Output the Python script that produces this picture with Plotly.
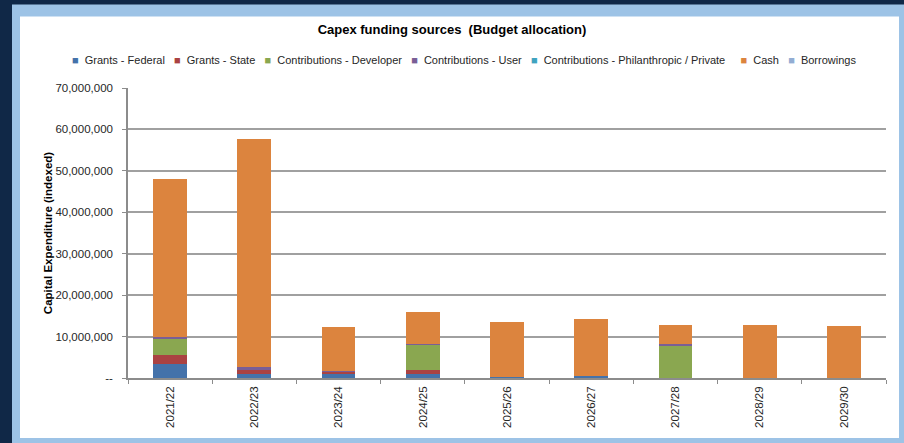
import plotly.graph_objects as go

# ---- data ----
years = ["2021/22", "2022/23", "2023/24", "2024/25", "2025/26",
         "2026/27", "2027/28", "2028/29", "2029/30"]
series_names = ["Grants - Federal", "Grants - State", "Contributions - Developer",
                "Contributions - User", "Contributions - Philanthropic / Private",
                "Cash", "Borrowings"]
grants_federal = [3500000, 1000000, 1000000, 1000000, 150000, 500000, 0, 0, 0]
grants_state = [2100000, 1100000, 450000, 1000000, 0, 0, 0, 0, 0]
contrib_developer = [3900000, 0, 0, 6000000, 0, 0, 7900000, 0, 0]
contrib_user = [500000, 450000, 350000, 250000, 0, 0, 200000, 0, 0]
contrib_philanthropic = [0, 0, 0, 0, 0, 0, 0, 0, 0]
cash = [38100000, 55200000, 10600000, 7650000, 13400000, 13780000, 4730000, 12830000, 12660000]
borrowings = [0, 0, 0, 0, 0, 0, 0, 0, 0]
y_tickvals = [0, 10000000, 20000000, 30000000, 40000000, 50000000, 60000000, 70000000]
y_ticktext = ["--", "10,000,000", "20,000,000", "30,000,000", "40,000,000",
              "50,000,000", "60,000,000", "70,000,000"]

values = [grants_federal, grants_state, contrib_developer, contrib_user,
          contrib_philanthropic, cash, borrowings]
colors = ["#4472AA", "#AA4242", "#8AA750", "#7A5E96", "#3FA3BF", "#DC843E", "#93ADD3"]

FONT = "Liberation Sans, Arial, sans-serif"
W, H = 904, 443
L, R, T, B = 128, 18, 88, 65
PW, PH = W - L - R, H - T - B


def px_x(px):
    return (px - L) / PW


def px_y(py):
    return (H - B - py) / PH


fig = go.Figure()
for name, vals, col in zip(series_names, values, colors):
    fig.add_trace(go.Bar(x=years, y=vals, name=name, marker_color=col,
                         marker_line_width=0, showlegend=False))

# custom Excel-like legend as real text
legend_parts = []
for i, (name, col) in enumerate(zip(series_names, colors)):
    if i == 0:
        sep = ""
    elif name == "Cash":
        sep = "     "
    else:
        sep = "   "
    legend_parts.append(sep + f'<span style="color:{col};font-size:11px">■</span>  {name}')
legend_text = "".join(legend_parts)

shapes = [
    dict(type="rect", xref="paper", yref="paper", layer="below",
         x0=px_x(12), x1=px_x(906), y0=px_y(4.6), y1=px_y(445),
         fillcolor="#9DC3E6", line_width=0),
    dict(type="rect", xref="paper", yref="paper", layer="below",
         x0=px_x(20), x1=px_x(899), y0=px_y(16.5), y1=px_y(438),
         fillcolor="#FFFFFF", line_width=0),
]

fig.update_layout(
    width=W, height=H,
    margin=dict(l=L, r=R, t=T, b=B, autoexpand=False),
    paper_bgcolor="#102847",
    plot_bgcolor="#FFFFFF",
    barmode="stack",
    bargap=0.6,
    font=dict(family=FONT, size=11.5, color="#262626"),
    title=dict(text="<b>Capex funding sources  (Budget allocation)</b>",
               x=452 / W, xref="container", xanchor="center",
               y=1 - 29 / H, yref="container", yanchor="middle",
               font=dict(family=FONT, size=13, color="#000000")),
    shapes=shapes,
    annotations=[dict(text=legend_text, xref="paper", yref="paper",
                      x=px_x(464), y=px_y(60.5), xanchor="center", yanchor="middle",
                      showarrow=False, font=dict(family=FONT, size=11, color="#262626"))],
)

fig.update_xaxes(
    type="category", tickangle=-90, tickson="boundaries",
    ticks="outside", ticklen=4, tickcolor="#8C8C8C", ticklabelstandoff=2,
    showline=True, linecolor="#8C8C8C", linewidth=1.5,
    showgrid=False, tickfont=dict(family=FONT, size=11.5, color="#262626"),
)
fig.update_yaxes(
    range=[0, 70000000], tickvals=y_tickvals, ticktext=y_ticktext,
    ticks="outside", ticklen=4, tickcolor="#8C8C8C", ticklabelstandoff=7,
    showline=True, linecolor="#8C8C8C", linewidth=1.5,
    showgrid=True, gridcolor="#A0A0A0", gridwidth=1.5,
    zeroline=False,
    tickfont=dict(family=FONT, size=11.5, color="#262626"),
    title=dict(text="<b>Capital Expenditure (indexed)</b>", standoff=0,
               font=dict(family=FONT, size=11.5, color="#000000")),
)

fig.write_html("out.html")
